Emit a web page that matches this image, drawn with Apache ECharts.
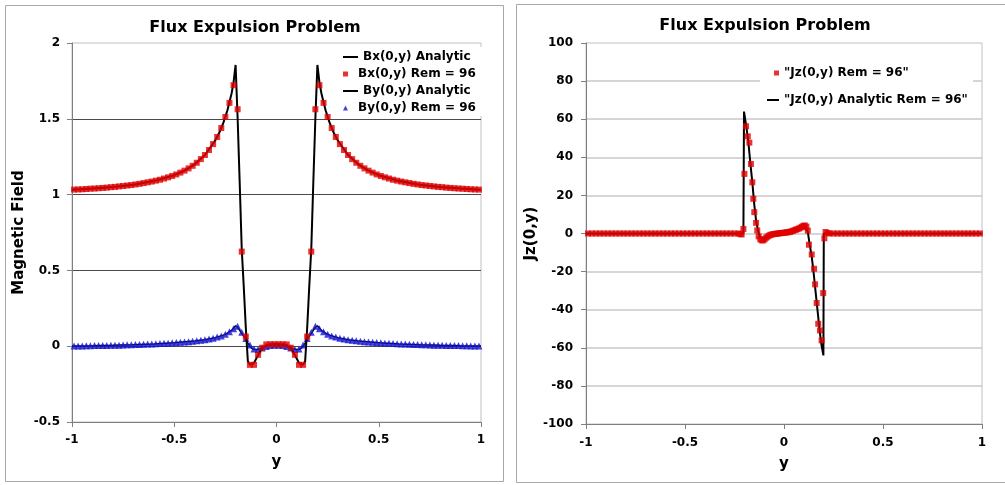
<!DOCTYPE html>
<html>
<head>
<meta charset="utf-8">
<script src="https://cdn.jsdelivr.net/npm/echarts@6/dist/echarts.min.js"></script>
<style>
html,body{margin:0;padding:0;background:#fff;}
#c{width:1005px;height:485px;}
</style>
</head>
<body>
<div id="c"></div>
<script>
// ---------- Left chart: magnetic field ----------
const titleText = 'Flux Expulsion Problem';
const leftXTicks = [-1, -0.5, 0, 0.5, 1];

// numerical grid (cell centres)
const numY = [
-0.99,-0.97,-0.95,-0.93,-0.91,-0.89,-0.87,-0.85,-0.83,-0.81,
-0.79,-0.77,-0.75,-0.73,-0.71,-0.69,-0.67,-0.65,-0.63,-0.61,
-0.59,-0.57,-0.55,-0.53,-0.51,-0.49,-0.47,-0.45,-0.43,-0.41,
-0.39,-0.37,-0.35,-0.33,-0.31,-0.29,-0.27,-0.25,-0.23,-0.21,
-0.19,-0.17,-0.15,-0.13,-0.11,-0.09,-0.07,-0.05,-0.03,-0.01,
0.01,0.03,0.05,0.07,0.09,0.11,0.13,0.15,0.17,0.19,
0.21,0.23,0.25,0.27,0.29,0.31,0.33,0.35,0.37,0.39,
0.41,0.43,0.45,0.47,0.49,0.51,0.53,0.55,0.57,0.59,
0.61,0.63,0.65,0.67,0.69,0.71,0.73,0.75,0.77,0.79,
0.81,0.83,0.85,0.87,0.89,0.91,0.93,0.95,0.97,0.99
];
const bxNum = [
1.033,1.034,1.035,1.037,1.039,1.040,1.042,1.044,1.046,1.049,
1.051,1.054,1.057,1.060,1.063,1.067,1.071,1.076,1.081,1.086,
1.092,1.098,1.106,1.114,1.123,1.133,1.145,1.158,1.173,1.190,
1.210,1.234,1.261,1.294,1.333,1.380,1.439,1.512,1.605,1.722,
1.563,0.624,0.063,-0.123,-0.123,-0.057,-0.010,0.012,0.013,0.013,
0.013,0.013,0.012,-0.010,-0.057,-0.123,-0.123,0.063,0.624,1.563,
1.722,1.605,1.512,1.439,1.380,1.333,1.294,1.261,1.234,1.210,
1.190,1.173,1.158,1.145,1.133,1.123,1.114,1.106,1.098,1.092,
1.086,1.081,1.076,1.071,1.067,1.063,1.060,1.057,1.054,1.051,
1.049,1.046,1.044,1.042,1.040,1.039,1.037,1.035,1.034,1.033
];
const byNum = [
0.001,0.002,0.002,0.003,0.003,0.004,0.004,0.005,0.005,0.006,
0.007,0.007,0.008,0.009,0.010,0.011,0.012,0.013,0.014,0.015,
0.016,0.017,0.019,0.020,0.022,0.024,0.026,0.028,0.030,0.033,
0.036,0.039,0.043,0.048,0.053,0.060,0.068,0.079,0.095,0.115,
0.132,0.092,0.050,0.008,-0.018,-0.021,-0.012,-0.002,0.004,0.007,
0.007,0.004,-0.002,-0.012,-0.021,-0.018,0.008,0.050,0.092,0.132,
0.115,0.095,0.079,0.068,0.060,0.053,0.048,0.043,0.039,0.036,
0.033,0.030,0.028,0.026,0.024,0.022,0.020,0.019,0.017,0.016,
0.015,0.014,0.013,0.012,0.011,0.010,0.009,0.008,0.007,0.007,
0.006,0.005,0.005,0.004,0.004,0.003,0.003,0.002,0.002,0.001
];
const bxAnaY = [
-1,-0.9,-0.8,-0.7,-0.6,-0.5,-0.45,-0.4,-0.35,-0.3,-0.28,-0.26,-0.24,-0.22,-0.21,-0.2,
-0.19,-0.18,-0.17,-0.16,-0.15,-0.14,-0.13,-0.12,-0.11,-0.1,-0.09,-0.08,-0.07,-0.06,-0.05,-0.04,-0.03,-0.02,-0.01,
0,
0.01,0.02,0.03,0.04,0.05,0.06,0.07,0.08,0.09,0.1,0.11,0.12,0.13,0.14,0.15,0.16,0.17,0.18,0.19,
0.2,0.21,0.22,0.24,0.26,0.28,0.3,0.35,0.4,0.45,0.5,0.6,0.7,0.8,0.9,1
];
const bxAna = [
1.032,1.040,1.050,1.065,1.089,1.128,1.158,1.200,1.261,1.356,1.408,1.473,1.556,1.665,1.740,1.855,
1.50,1.08,0.64,0.39,0.12,-0.10,-0.12,-0.12,-0.11,-0.085,-0.06,-0.035,-0.015,-0.003,0.005,0.009,0.011,0.012,0.013,
0.013,
0.013,0.012,0.011,0.009,0.005,-0.003,-0.015,-0.035,-0.06,-0.085,-0.11,-0.12,-0.12,-0.10,0.12,0.39,0.64,1.08,1.50,
1.855,1.740,1.665,1.556,1.473,1.408,1.356,1.261,1.200,1.158,1.128,1.089,1.065,1.050,1.040,1.032
];
const byAnaY = [
-1,-0.9,-0.8,-0.7,-0.6,-0.5,-0.4,-0.35,-0.3,-0.26,-0.24,-0.22,-0.2,-0.19,-0.18,-0.17,-0.16,-0.15,-0.14,-0.13,
-0.12,-0.11,-0.1,-0.09,-0.08,-0.07,-0.06,-0.05,-0.03,0,
0.03,0.05,0.06,0.07,0.08,0.09,0.1,0.11,0.12,0.13,0.14,0.15,0.16,0.17,0.18,0.19,0.2,
0.22,0.24,0.26,0.3,0.35,0.4,0.5,0.6,0.7,0.8,0.9,1
];
const byAna = [
0.001,0.003,0.006,0.010,0.015,0.023,0.034,0.043,0.056,0.073,0.086,0.104,0.135,0.125,0.105,0.085,0.065,0.045,0.02,0.0,
-0.015,-0.02,-0.022,-0.02,-0.015,-0.01,-0.005,0.0,0.004,0.006,
0.004,0.0,-0.005,-0.01,-0.015,-0.02,-0.022,-0.02,-0.015,0.0,0.02,0.045,0.065,0.085,0.105,0.125,0.135,
0.104,0.086,0.073,0.056,0.043,0.034,0.023,0.015,0.010,0.006,0.003,0.001
];

// ---------- Right chart: current density ----------
const jzNumY = [
-0.99,-0.97,-0.95,-0.93,-0.91,-0.89,-0.87,-0.85,-0.83,-0.81,
-0.79,-0.77,-0.75,-0.73,-0.71,-0.69,-0.67,-0.65,-0.63,-0.61,
-0.59,-0.57,-0.55,-0.53,-0.51,-0.49,-0.47,-0.45,-0.43,-0.41,
-0.39,-0.37,-0.35,-0.33,-0.31,-0.29,-0.27,-0.25,-0.23,
-0.22,-0.214,-0.205,-0.2,-0.192,-0.183,-0.175,-0.167,-0.16,-0.155,
-0.15,-0.141,-0.135,-0.128,-0.12,-0.113,-0.105,-0.098,-0.09,-0.083,
-0.075,-0.068,-0.06,-0.053,-0.045,-0.038,-0.03,-0.023,-0.015,-0.008,
0,0.008,0.015,0.023,0.03,0.038,0.045,0.053,0.06,0.068,
0.075,0.083,0.09,0.098,0.105,0.113,0.12,0.126,0.14,0.152,
0.157,0.165,0.173,0.182,0.19,0.198,0.204,0.21,0.22,
0.23,0.25,0.27,0.29,0.31,0.33,0.35,0.37,0.39,
0.41,0.43,0.45,0.47,0.49,0.51,0.53,0.55,0.57,0.59,
0.61,0.63,0.65,0.67,0.69,0.71,0.73,0.75,0.77,0.79,
0.81,0.83,0.85,0.87,0.89,0.91,0.93,0.95,0.97,0.99
];
const jzNum = [
0,0,0,0,0,0,0,0,0,0,
0,0,0,0,0,0,0,0,0,0,
0,0,0,0,0,0,0,0,0,0,
0,0,0,0,0,0,0,0,0,
-0.3,-0.5,2.4,31.3,56.3,51,47.7,36.5,26.9,18.2,
11.2,5.6,1.6,-1.5,-3.0,-3.6,-3.6,-3.0,-2.2,-1.6,
-1.1,-0.7,-0.5,-0.3,-0.2,-0.1,0,0.1,0.2,0.3,
0.4,0.5,0.6,0.7,0.9,1.1,1.4,1.7,2.0,2.3,
2.6,3.0,3.5,4.0,4.2,3.6,1.5,-5.9,-11,-18.5,
-26.7,-36.5,-47.4,-50.9,-56.1,-31.3,-2.5,0.8,0.3,
0,0,0,0,0,0,0,0,0,
0,0,0,0,0,0,0,0,0,0,
0,0,0,0,0,0,0,0,0,0,
0,0,0,0,0,0,0,0,0,0
];
const jzAnaY = [
-1,-0.205,-0.202,-0.19,-0.18,-0.17,-0.16,-0.15,-0.14,-0.13,-0.12,-0.11,-0.1,-0.08,-0.06,-0.04,-0.02,
0,0.02,0.04,0.06,0.08,0.1,0.11,0.12,0.13,0.14,0.15,0.16,0.17,0.18,0.19,0.199,0.201,1
];
const jzAna = [
0,0,64,56,48,37,27,15,6,1,-2.5,-3.5,-3.2,-1.8,-0.6,-0.1,0.2,
0.5,0.8,1.3,2.1,3.0,4.0,3.8,1.0,-6,-12,-21,-31,-41,-51,-59,-64,0,0
];

const names = {
  bxA: 'Bx(0,y) Analytic', bxN: 'Bx(0,y) Rem = 96',
  byA: 'By(0,y) Analytic', byN: 'By(0,y) Rem = 96',
  jzN: '"Jz(0,y) Rem = 96"', jzA: '"Jz(0,y) Analytic Rem = 96"'
};

const zip = (xs, vs) => xs.map((x, i) => [x, vs[i]]);
const FF = '"DejaVu Sans", Verdana, sans-serif';
const lbl = {fontFamily: FF, fontWeight: 'bold', fontSize: 12, color: '#000'};
const SQ = 'path://M0,0L10,0L10,10L0,10Z';
const TRI = 'path://M5,0L10,10L0,10Z';
const RED = '#e00000', BLUE = '#1414d2';

function xAx(gi, gap, margin) {
  return {
    gridIndex: gi, type: 'value', min: -1, max: 1, interval: 0.5,
    axisLine: {onZero: false, lineStyle: {color: '#7f7f7f', width: 1}},
    axisTick: {show: true, length: 5, lineStyle: {color: '#7f7f7f'}},
    splitLine: {show: false},
    axisLabel: Object.assign({margin: margin}, lbl),
    name: 'y', nameLocation: 'middle', nameGap: gap,
    nameTextStyle: {fontFamily: FF, fontWeight: 'bold', fontSize: 15, color: '#000'}
  };
}
function legendItem(name, left, top, kind) {
  const o = {
    data: [name], left: left, top: top, padding: 0, selectedMode: false,
    textStyle: {fontFamily: FF, fontWeight: 'bold', fontSize: 12, color: '#000', lineHeight: 14},
    z: 20
  };
  if (kind === 'line') { o.icon = 'rect'; o.itemWidth = 15; o.itemHeight = 2; }
  else if (kind === 'line2') { o.icon = 'rect'; o.itemWidth = 12; o.itemHeight = 2; }
  else if (kind === 'sq') { o.icon = SQ; o.itemWidth = 15; o.itemHeight = 5; }
  else if (kind === 'sq2') { o.icon = SQ; o.itemWidth = 5; o.itemHeight = 5; }
  else { o.icon = TRI; o.itemWidth = 15; o.itemHeight = 5; }
  return o;
}

const chart = echarts.init(document.getElementById('c'), null, {renderer: 'canvas'});
chart.setOption({
  animation: false,
  backgroundColor: '#fff',
  title: [
    {text: titleText, left: 255, top: 20, textAlign: 'center', padding: 0,
     textStyle: {fontFamily: FF, fontWeight: 'bold', fontSize: 16, color: '#000'}},
    {text: titleText, left: 765, top: 18, textAlign: 'center', padding: 0,
     textStyle: {fontFamily: FF, fontWeight: 'bold', fontSize: 16, color: '#000'}}
  ],
  graphic: [
    {type: 'rect', shape: {x: 5.5, y: 5.5, width: 498, height: 476}, style: {fill: 'none', stroke: '#a8a8a8', lineWidth: 1}, z: 0, silent: true},
    {type: 'rect', shape: {x: 516.5, y: 4.5, width: 520, height: 478}, style: {fill: 'none', stroke: '#a8a8a8', lineWidth: 1}, z: 0, silent: true},
    {type: 'rect', shape: {x: 340, y: 47, width: 150, height: 69}, style: {fill: '#fff'}, z: 10, silent: true},
    {type: 'rect', shape: {x: 760, y: 60, width: 213, height: 52}, style: {fill: '#fff'}, z: 10, silent: true}
  ],
  legend: [
    legendItem(names.bxA, 343, 50, 'line'),
    legendItem(names.bxN, 343, 67, 'sq'),
    legendItem(names.byA, 343, 84, 'line'),
    legendItem(names.byN, 343, 101, 'tri'),
    legendItem(names.jzN, 774, 66, 'sq2'),
    legendItem(names.jzA, 767, 93, 'line2')
  ],
  grid: [
    {left: 72, top: 43, width: 409, height: 379, show: true, borderColor: '#c0c0c0', borderWidth: 1, containLabel: false},
    {left: 586, top: 43, width: 396, height: 381, show: true, borderColor: '#c0c0c0', borderWidth: 1, containLabel: false}
  ],
  xAxis: [xAx(0, 33, 12), xAx(1, 33, 13)],
  yAxis: [
    {gridIndex: 0, type: 'value', min: -0.5, max: 2, interval: 0.5,
     axisLine: {show: true, onZero: false, lineStyle: {color: '#7f7f7f'}},
     axisTick: {show: true, length: 5, lineStyle: {color: '#7f7f7f'}},
     splitLine: {show: true, showMinLine: false, showMaxLine: false, lineStyle: {color: '#4a4a4a', width: 1}},
     axisLabel: Object.assign({margin: 12}, lbl),
     name: 'Magnetic Field', nameLocation: 'middle', nameGap: 45, nameRotate: 90,
     nameTextStyle: {fontFamily: FF, fontWeight: 'bold', fontSize: 15, color: '#000'}},
    {gridIndex: 1, type: 'value', min: -100, max: 100, interval: 20,
     axisLine: {show: true, onZero: false, lineStyle: {color: '#7f7f7f'}},
     axisTick: {show: true, length: 5, lineStyle: {color: '#7f7f7f'}},
     splitLine: {show: true, showMinLine: false, showMaxLine: false, lineStyle: {color: '#c8c8c8', width: 1.5}},
     axisLabel: Object.assign({margin: 13}, lbl),
     name: 'Jz(0,y)', nameLocation: 'middle', nameGap: 39, nameRotate: 90,
     nameTextStyle: {fontFamily: FF, fontWeight: 'bold', fontSize: 15, color: '#000'}}
  ],
  series: [
    {name: names.byA, type: 'line', xAxisIndex: 0, yAxisIndex: 0, data: zip(byAnaY, byAna),
     symbol: 'none', color: '#000', lineStyle: {color: '#000', width: 1.5}, z: 2},
    {name: names.byN, type: 'scatter', xAxisIndex: 0, yAxisIndex: 0, data: zip(numY, byNum),
     symbol: 'triangle', symbolSize: 7, itemStyle: {color: BLUE}, color: BLUE, z: 3},
    {name: names.bxA, type: 'line', xAxisIndex: 0, yAxisIndex: 0, data: zip(bxAnaY, bxAna),
     symbol: 'none', color: '#000', lineStyle: {color: '#000', width: 2}, z: 4},
    {name: names.bxN, type: 'scatter', xAxisIndex: 0, yAxisIndex: 0, data: zip(numY, bxNum),
     symbol: 'rect', symbolSize: 6, itemStyle: {color: RED}, color: RED, z: 5},
    {name: names.jzA, type: 'line', xAxisIndex: 1, yAxisIndex: 1, data: zip(jzAnaY, jzAna),
     symbol: 'none', color: '#000', lineStyle: {color: '#000', width: 2}, z: 4},
    {name: names.jzN, type: 'scatter', xAxisIndex: 1, yAxisIndex: 1, data: zip(jzNumY, jzNum),
     symbol: 'rect', symbolSize: 6, itemStyle: {color: RED}, color: RED, z: 5}
  ]
});
</script>
</body>
</html>
